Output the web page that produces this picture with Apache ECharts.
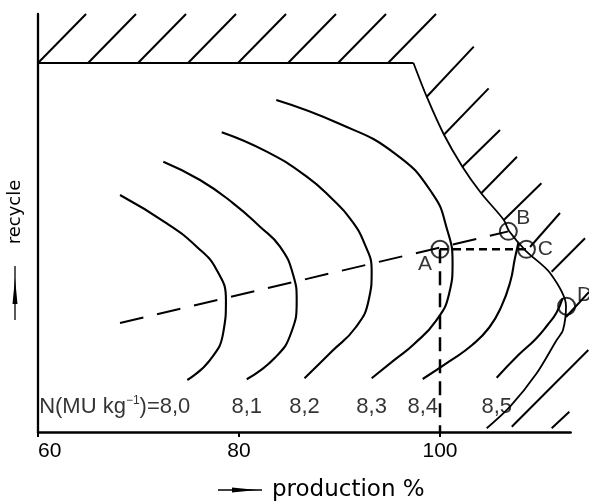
<!DOCTYPE html>
<html>
<head>
<meta charset="utf-8">
<script src="https://cdn.jsdelivr.net/npm/echarts@6/dist/echarts.min.js"></script>
<style>
  html, body { margin: 0; padding: 0; background: #fff; }
  #chart { width: 589px; height: 502px; }
</style>
</head>
<body>
<div id="chart"></div>
<script>
// Production axis ticks
const xTicks = [60, 80, 100];
const xTickLabels = ['60', '80', '100'];

// Iso-cost contours N (MU kg^-1): [production %, recycle (relative)]
const levelLabels = ['8,0', '8,1', '8,2', '8,3', '8,4', '8,5'];
const n80 = [[68.16,56.70],[72.81,49.93],[75.79,44.33],[77.78,38.76],[78.7,31.5],[78.45,24.0],[77.11,17.22],[74.86,12.44]];
const n81 = [[72.47,64.67],[76.12,60.29],[79.43,54.71],[82.09,49.11],[84.08,44.33],[85.4,37.5],[85.74,31.5],[85.2,23.8],[83.6,17.8],[80.77,12.61]];
const n82 = [[78.28,71.70],[82.76,67.06],[86.74,61.08],[89.38,55.50],[91.04,51.12],[92.5,45.0],[93.2,38.5],[92.9,31.5],[91.6,25.0],[89.2,19.2],[86.52,12.85]];
const n83 = [[83.71,79.43],[89.88,73.85],[95.49,66.67],[99.23,57.11],[100.7,48.5],[101.25,40.5],[100.9,33.0],[99.6,26.6],[97.4,21.0],[95.5,17.3],[93.20,12.85]];
const n84 = [[107.8,45.3],[107.45,41.5],[107.0,36.0],[106.1,30.0],[104.9,25.0],[103.2,20.8],[101.0,17.0],[98.28,12.68]];
const n85 = [[112.2,32.0],[111.6,28.6],[110.7,25.6],[109.5,22.2],[107.8,18.4],[105.64,12.99]];
const contours = [n80, n81, n82, n83, n84, n85];

// Feasibility limit: recycle ceiling and production limit
const ceiling = [[60, 88.28], [97.36, 88.28]];
const limitCurve = [[97.36,88.28],[98.68,80.21],[100.36,71.29],[102.23,63.47],[104.10,57.11],[106.35,50.72],[106.87,48.09],[108.56,43.30],[110.95,38.04],[112.54,30.14],[112.24,24.40],[111.61,22.01],[109.62,14.04],[106.97,6.05],[104.65,0.89]];

// Hatching on the infeasible side (segment start, segment end)
const hatchStart = [[60.0,88.28],[64.98,88.28],[69.95,88.28],[74.93,88.28],[79.90,88.28],[84.88,88.28],[89.85,88.28],[94.83,88.28],
  [98.68,80.21],[100.36,71.05],[102.23,63.47],[104.10,57.11],[106.35,50.72],[108.96,44.26],[111.11,38.35],[112.54,27.51],[107.14,1.27],[111.11,0.89]];
const hatchEnd = [[64.78,100],[69.75,100],[74.73,100],[79.70,100],[84.68,100],[89.65,100],[94.63,100],[99.60,100],
  [103.36,92.18],[104.84,82.22],[105.97,72.25],[107.66,65.86],[110.09,59.50],[111.94,52.39],[114.43,46.34],[114.83,33.49],[114.76,19.62],[112.87,4.86]];

// Operating points
const pointNames = ['A', 'B', 'C', 'D'];
const pointCoords = [[100, 43.7], [106.8, 48.0], [108.6, 43.7], [112.6, 30.1]];

// Ridge of the contours (optimum recycle for each production)
const ridge = [[68.16, 26.08], [106.8, 48.0]];

const LABEL_ROW = 6;
const INK = '#000';

const chart = echarts.init(document.getElementById('chart'), null, { renderer: 'canvas' });

const contourSeries = contours.map(c => ({
  type: 'line', data: c, smooth: 0.5, showSymbol: false, silent: true, z: 3,
  lineStyle: { color: INK, width: 2.1 }
}));

const labelOffsets = { A: [-15, 15], B: [15, -13], C: [19, 0], D: [18, -11] };

const option = {
  animation: false,
  backgroundColor: '#fff',
  grid: { left: 38, top: 14, right: 18.35, bottom: 70, containLabel: false, outerBoundsMode: 'none' },
  xAxis: {
    type: 'value', min: 60, max: 113, interval: 20,
    splitLine: { show: false },
    axisLine: { lineStyle: { color: INK, width: 2.5 } },
    axisTick: { show: true, customValues: xTicks, length: 5, lineStyle: { color: INK, width: 2 } },
    axisLabel: {
      customValues: xTicks, alignMinLabel: 'left',
      formatter: v => xTickLabels[xTicks.indexOf(v)] || '',
      color: INK, fontFamily: 'Liberation Sans', fontSize: 21, margin: 9
    }
  },
  yAxis: {
    type: 'value', min: 0, max: 100,
    splitLine: { show: false },
    axisLine: { show: true, lineStyle: { color: INK, width: 2.3 } },
    axisTick: { show: false },
    axisLabel: { show: false }
  },
  series: [
    {
      type: 'lines', coordinateSystem: 'cartesian2d', silent: true, clip: false, z: 2,
      data: hatchStart.map((s, i) => ({ coords: [s, hatchEnd[i]] })),
      lineStyle: { color: INK, width: 2, curveness: 0, opacity: 1 }
    },
    { type: 'line', data: ceiling, showSymbol: false, silent: true, z: 3, lineStyle: { color: INK, width: 2 } },
    { type: 'line', data: limitCurve, smooth: 0.3, showSymbol: false, silent: true, clip: false, z: 3, lineStyle: { color: INK, width: 1.8 } },
    ...contourSeries,
    { type: 'line', data: ridge, showSymbol: false, silent: true, z: 4, lineStyle: { color: INK, width: 2, type: [24, 14] } },
    { type: 'line', data: [pointCoords[0], pointCoords[2]], showSymbol: false, silent: true, z: 4, lineStyle: { color: INK, width: 2.5, type: [8, 5] } },
    { type: 'line', data: [pointCoords[0], [pointCoords[0][0], 0]], showSymbol: false, silent: true, z: 4, lineStyle: { color: INK, width: 2.5, type: [14, 8] } },
    {
      type: 'scatter', silent: true, z: 6, symbol: 'circle', symbolSize: 17,
      itemStyle: { color: 'rgba(255,255,255,0)', borderColor: INK, borderWidth: 2 },
      data: pointNames.map((n, i) => ({
        name: n, value: pointCoords[i],
        label: { show: true, formatter: '{b}', position: 'inside', offset: labelOffsets[n],
          color: INK, fontFamily: 'Liberation Sans', fontSize: 21 }
      }))
    },
    {
      type: 'scatter', silent: true, z: 6, symbolSize: 1,
      itemStyle: { color: 'rgba(0,0,0,0)' },
      data: contours.map((c, i) => {
        const end = c[c.length - 1];
        const first = i === 0;
        return {
          value: [end[0], LABEL_ROW],
          label: {
            show: true, position: 'inside',
            align: first ? 'right' : 'center',
            offset: first ? [3, 0] : [0, 0],
            formatter: first ? 'N(MU kg{sup|\u22121})=' + levelLabels[i] : levelLabels[i],
            color: INK, fontFamily: 'Liberation Sans', fontSize: 22, lineHeight: 24,
            rich: { sup: { fontFamily: 'Liberation Sans', fontSize: 12, lineHeight: 24, verticalAlign: 'top', padding: [0, 0, 10, 0], color: INK } }
          }
        };
      })
    }
  ],
  graphic: [
    { type: 'text', x: 15, y: 212, rotation: Math.PI / 2, silent: true,
      style: { text: 'recycle', fontSize: 18, fontFamily: 'DejaVu Sans', fill: INK, align: 'center', verticalAlign: 'middle' } },
    { type: 'line', silent: true, shape: { x1: 15, y1: 320, x2: 15, y2: 266 }, style: { stroke: INK, lineWidth: 1.3 } },
    { type: 'polygon', silent: true, shape: { points: [[12.5, 304], [15, 278], [17.5, 304]] }, style: { fill: INK } },
    { type: 'text', x: 272, y: 490, silent: true,
      style: { text: 'production %', fontSize: 23, fontFamily: 'DejaVu Sans', fill: INK, align: 'left', verticalAlign: 'middle' } },
    { type: 'line', silent: true, shape: { x1: 218, y1: 490, x2: 262, y2: 490 }, style: { stroke: INK, lineWidth: 1.3 } },
    { type: 'polygon', silent: true, shape: { points: [[232, 487.5], [257, 490], [232, 492.5]] }, style: { fill: INK } }
  ]
};

chart.setOption(option);
</script>
</body>
</html>
